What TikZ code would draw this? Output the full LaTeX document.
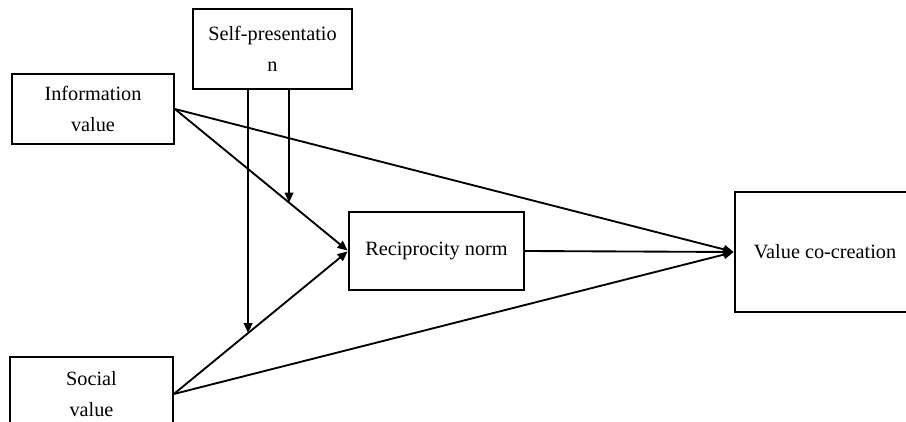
\documentclass[tikz,border=0pt]{standalone}
\usepackage{fontspec}
\setmainfont{Liberation Serif}
\usepackage{tikz}
\usetikzlibrary{arrows.meta, positioning, calc}

\begin{document}
\begin{tikzpicture}[x=0.75pt, y=0.75pt, >={Triangle[length=7.5pt, width=6.5pt]},
  line width=1.4pt,
  box/.style={draw, line width=1.3pt, align=center, inner sep=0pt,
              font=\fontsize{15.2}{23.5}\selectfont},
  twoline/.style={box, execute at begin node={\rule{0pt}{15.5pt}}},
  path/.style={->, shorten >=0.5pt}
]
  \clip (0,0) rectangle (906,421);

  \node[twoline, minimum width=119.25pt, minimum height=60pt] (self)   at (272.5,372) {Self-presentatio\\n};
  \node[twoline, minimum width=121.5pt, minimum height=52.5pt] (info)  at (93,312)    {Information\\value};
  \node[twoline, minimum width=122.25pt, minimum height=55.5pt] (social) at (91.5,27) {Social\\value};
  \node[box, minimum width=131.25pt, minimum height=58.5pt] (recip) at (436.5,170) {Reciprocity norm};
  \node[box, minimum width=135pt, minimum height=90pt]    (vcc)    at (825,169)   {Value co-creation};

  %% Direct paths
  \draw[path] (info.east) -- (recip.west);
  \draw[path] (social.east) -- (recip.west);
  \draw[path] (info.east) -- (vcc.west);
  \draw[path] (social.east) -- (vcc.west);
  \draw[path] (recip.east) -- (vcc.west);

  %% Moderation by self-presentation
  \coordinate (m1) at ($(info.east)!0.659!(recip.west)$);
  \coordinate (m2) at ($(social.east)!0.426!(recip.west)$);
  \draw[->] (self.south -| m1) -- (m1);
  \draw[->] (self.south -| m2) -- (m2);
\end{tikzpicture}
\end{document}
